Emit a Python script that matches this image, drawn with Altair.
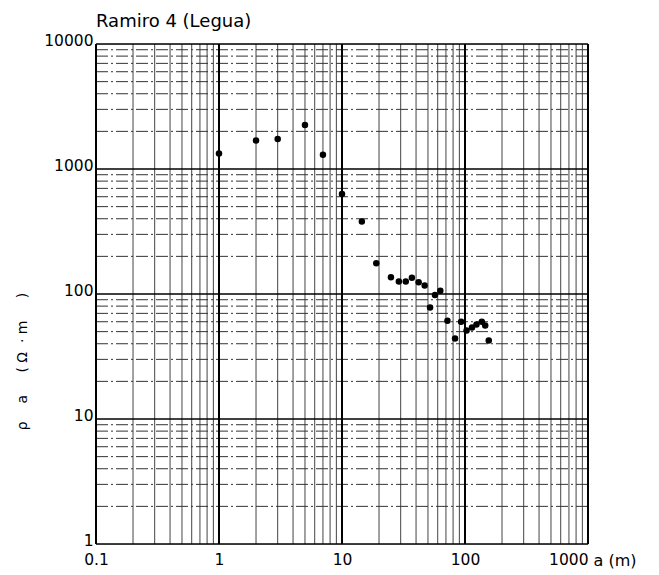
import altair as alt
import pandas as pd

# data
spacing_a = [1, 2, 3, 5, 7, 10, 14.5, 19, 25, 29, 33, 37, 42, 47, 52, 57, 63,
             72, 83, 93, 103, 114, 124, 137, 146, 156]
rho_a = [1330, 1690, 1740, 2250, 1300, 630, 380, 176, 136, 126, 126, 135, 124,
         117, 78, 98, 106, 61, 44, 60, 51, 54, 57, 60, 56, 42.5]

x_decades = [0.1, 1, 10, 100, 1000]
y_decades = [1, 10, 100, 1000, 10000]
multipliers = [2, 3, 4, 5, 6, 7, 8, 9]

x_minor = [d * m for d in x_decades[:-1] for m in multipliers]
y_minor = [d * m for d in y_decades[:-1] for m in multipliers]

pts = pd.DataFrame({"a": spacing_a, "rho": rho_a})
xmaj = pd.DataFrame({"v": x_decades})
xmin_ = pd.DataFrame({"v": x_minor})
ymaj = pd.DataFrame({"v": y_decades})
ymin_ = pd.DataFrame({"v": y_minor})

NB = "\u00a0"
y_title = "ρ" + NB * 4 + "a" + NB * 5 + "(" + NB + "Ω" + NB * 2 + "·" + NB + "m" + NB * 5 + ")"

W, H = 492, 500
xs = alt.Scale(type="log", domain=[0.1, 1000], nice=False)
ys = alt.Scale(type="log", domain=[1, 10000], nice=False)

FONT = "DejaVu Sans"

xaxis = alt.Axis(values=x_decades, format="~g", grid=False, ticks=False, domain=False,
                 labelFontSize=15.5, labelPadding=8, labelColor="black",
                 labelFont=FONT,
                 labelAlign=alt.expr("datum.value >= 1000 ? 'right' : 'center'"),
                 title="a (m)", titleFont=FONT, titleFontSize=16,
                 titleFontWeight="normal", titleColor="black",
                 titleX=W + 5, titleY=21, titleAlign="left", titleBaseline="alphabetic")
yaxis = alt.Axis(values=y_decades, format="~g", grid=False, ticks=False, domain=False,
                 labelFontSize=15.5, labelPadding=3, labelColor="black",
                 labelFont=FONT, labelBaseline="middle", labelOffset=-4,
                 title=y_title, titleFont=FONT, titleFontSize=14,
                 titleFontWeight="normal", titleColor="black",
                 titleX=-74, titleY=317, titleAlign="center", titleBaseline="middle",
                 titleAngle=270)

X = lambda f: alt.X(f, type="quantitative", scale=xs, axis=xaxis)
Y = lambda f: alt.Y(f, type="quantitative", scale=ys, axis=yaxis)

vminor = alt.Chart(xmin_).mark_rule(color="#444444", strokeWidth=1).encode(x=X("v"))
hminor = alt.Chart(ymin_).mark_rule(color="#333333", strokeWidth=1,
                                    strokeDash=[12, 3, 2, 3]).encode(y=Y("v"))
vmajor = alt.Chart(xmaj).mark_rule(color="black", strokeWidth=2).encode(x=X("v"))
hmajor = alt.Chart(ymaj).mark_rule(color="black", strokeWidth=1.5).encode(y=Y("v"))

points = alt.Chart(pts).mark_circle(color="black", opacity=1, size=42).encode(
    x=X("a"), y=Y("rho"))

chart = alt.layer(vminor, hminor, vmajor, hmajor, points).properties(
    width=W, height=H,
    title=alt.TitleParams("Ramiro 4 (Legua)", anchor="start", frame="group",
                          fontSize=18, fontWeight="normal", font=FONT,
                          color="black", offset=2),
    autosize=alt.AutoSizeParams(type="none"),
    padding={"left": 88, "top": 36, "right": 60, "bottom": 30},
).configure_view(stroke="black", strokeWidth=2).configure(background="white")

chart.save("out.html", embed_options={"renderer": "svg", "actions": False})
